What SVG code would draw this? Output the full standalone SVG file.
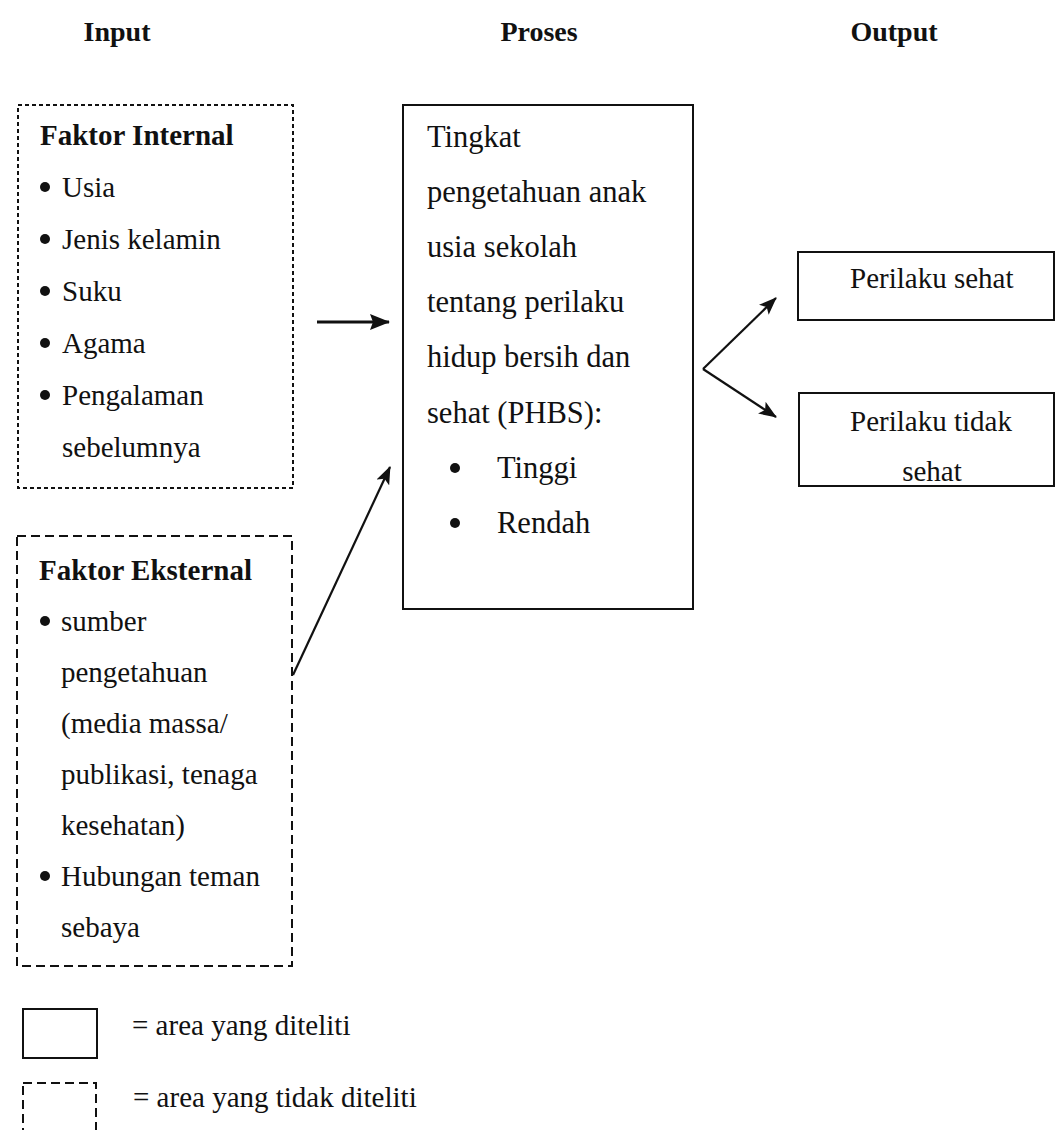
<svg xmlns="http://www.w3.org/2000/svg" width="1057" height="1130" viewBox="0 0 1057 1130">
<style>
.hdr{font-family:"Liberation Serif",serif;font-weight:bold;font-size:28px;fill:#111}
.t{font-family:"Liberation Serif",serif;font-size:29px;fill:#111}
.tp{font-family:"Liberation Serif",serif;font-size:30.5px;fill:#111}
.tb{font-family:"Liberation Serif",serif;font-weight:bold;font-size:29px;fill:#111}
.solid{fill:none;stroke:#111;stroke-width:2}
.dot{fill:none;stroke:#111;stroke-width:2;stroke-dasharray:4 3}
.dash{fill:none;stroke:#111;stroke-width:2;stroke-dasharray:9 5}
.conn{fill:none;stroke:#111;stroke-width:2.2}
.bold-conn{fill:none;stroke:#111;stroke-width:3}
</style>
<defs>
<marker id="ah" markerWidth="18" markerHeight="14" refX="17" refY="7" orient="auto" markerUnits="userSpaceOnUse">
<path d="M0,0 L18,7 L0,14 L4,7 Z" fill="#111"/>
</marker>
<marker id="ahb" markerWidth="20" markerHeight="16" refX="19" refY="8" orient="auto" markerUnits="userSpaceOnUse">
<path d="M0,0 L20,8 L0,16 L3,8 Z" fill="#111"/>
</marker>
</defs>
<rect width="1057" height="1130" fill="#fff"/>

<g id="headers">
<text class="hdr" x="117" y="41" text-anchor="middle">Input</text>
<text class="hdr" x="539" y="41" text-anchor="middle">Proses</text>
<text class="hdr" x="894" y="41" text-anchor="middle">Output</text>
</g>

<g id="faktor-internal">
<rect class="dot" x="18" y="105" width="275" height="383"/>
<text class="tb" x="40" y="145">Faktor Internal</text>
<circle cx="45" cy="187" r="5" fill="#111"/><text class="t" x="62" y="197">Usia</text>
<circle cx="45" cy="239" r="5" fill="#111"/><text class="t" x="62" y="249">Jenis kelamin</text>
<circle cx="45" cy="291" r="5" fill="#111"/><text class="t" x="62" y="301">Suku</text>
<circle cx="45" cy="343" r="5" fill="#111"/><text class="t" x="62" y="353">Agama</text>
<circle cx="45" cy="395" r="5" fill="#111"/><text class="t" x="62" y="405">Pengalaman</text>
<text class="t" x="62" y="457">sebelumnya</text>
</g>

<g id="faktor-eksternal">
<rect class="dash" x="17" y="536" width="275" height="430"/>
<text class="tb" x="39" y="580">Faktor Eksternal</text>
<circle cx="45" cy="621" r="5" fill="#111"/><text class="t" x="61" y="631">sumber</text>
<text class="t" x="61" y="682">pengetahuan</text>
<text class="t" x="61" y="733">(media massa/</text>
<text class="t" x="61" y="784">publikasi, tenaga</text>
<text class="t" x="61" y="835">kesehatan)</text>
<circle cx="45" cy="876" r="5" fill="#111"/><text class="t" x="61" y="886">Hubungan teman</text>
<text class="t" x="61" y="937">sebaya</text>
</g>

<g id="proses">
<rect class="solid" x="403" y="105" width="290" height="504"/>
<text class="tp" x="427" y="147">Tingkat</text>
<text class="tp" x="427" y="202">pengetahuan anak</text>
<text class="tp" x="427" y="257">usia sekolah</text>
<text class="tp" x="427" y="312">tentang perilaku</text>
<text class="tp" x="427" y="367">hidup bersih dan</text>
<text class="tp" x="427" y="423">sehat (PHBS):</text>
<circle cx="455" cy="468" r="5" fill="#111"/><text class="tp" x="497" y="478">Tinggi</text>
<circle cx="455" cy="523" r="5" fill="#111"/><text class="tp" x="497" y="533">Rendah</text>
</g>

<g id="perilaku-sehat">
<rect class="solid" x="798" y="252" width="256" height="68"/>
<text class="t" x="850" y="288">Perilaku sehat</text>
</g>

<g id="perilaku-tidak-sehat">
<rect class="solid" x="799" y="393" width="255" height="93"/>
<text class="t" x="850" y="431">Perilaku tidak</text>
<text class="t" x="932" y="481" text-anchor="middle">sehat</text>
</g>

<g id="connectors">
<line class="bold-conn" x1="317" y1="322" x2="389" y2="322" marker-end="url(#ahb)"/>
<line class="conn" x1="293" y1="675" x2="390" y2="467" marker-end="url(#ah)"/>
<line class="conn" x1="703" y1="369" x2="776" y2="417" marker-end="url(#ah)"/>
<line class="conn" x1="703" y1="369" x2="776" y2="298" marker-end="url(#ah)"/>
</g>

<g id="legend">
<rect class="solid" x="23" y="1009" width="74" height="49"/>
<text class="t" x="132" y="1035">= area yang diteliti</text>
<rect class="dash" x="23" y="1083" width="73" height="52"/>
<text class="t" x="133" y="1107">= area yang tidak diteliti</text>
</g>
</svg>
